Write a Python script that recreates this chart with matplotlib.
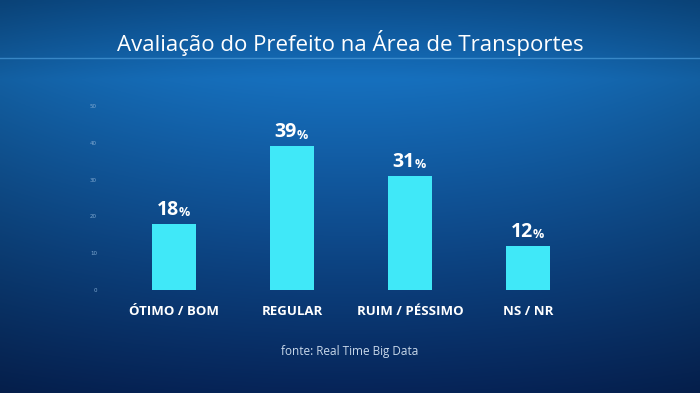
import matplotlib.pyplot as plt
import numpy as np

categories = ['ÓTIMO / BOM', 'REGULAR', 'RUIM / PÉSSIMO', 'NS / NR']
values = [18, 39, 31, 12]
yticks = [0, 10, 20, 30, 40, 50]
title = 'Avaliação do Prefeito na Área de Transportes'
source = 'fonte: Real Time Big Data'

W, H = 700, 393
fig = plt.figure(figsize=(W / 100, H / 100), dpi=100)

# background gradient
bg = fig.add_axes([0, 0, 1, 1])
yy = np.linspace(0, 1, 200)[:, None]
xx = np.linspace(-1, 1, 300)[None, :]
top = np.array([12, 78, 140]) / 255
mid = np.array([22, 112, 190]) / 255
bot = np.array([6, 36, 88]) / 255
t = yy
img = np.zeros((200, 300, 3))
for c in range(3):
    up = top[c] + (mid[c] - top[c]) * np.clip((t - 0.0) / 0.2, 0, 1)
    down = mid[c] + (bot[c] - mid[c]) * np.clip((t - 0.2) / 0.8, 0, 1)
    val = np.where(t < 0.2, up, down)
    img[:, :, c] = val * (1 - 0.15 * xx ** 2)
bg.imshow(np.clip(img, 0, 1), aspect='auto', extent=[0, 1, 0, 1], origin='upper')
bg.axhline(1 - 58 / H, color='#4a9ad8', lw=1, alpha=0.7)
bg.set_xlim(0, 1)
bg.set_ylim(0, 1)
bg.axis('off')

# chart axes: y=0 at 289px, y=50 at 105px; x centers 174..528
ax = fig.add_axes([115 / W, 1 - 290 / H, 472 / W, 184 / H])
ax.patch.set_alpha(0)
x = np.arange(len(categories))
ax.bar(x, values, width=0.38, color='#40e8f8')
ax.set_xlim(-0.5, 3.5)
ax.set_ylim(0, 50)
ax.set_yticks(yticks)
ax.set_yticklabels([str(v) for v in yticks], fontsize=4, color='#7fa8d0')
ax.tick_params(axis='y', length=0, pad=13)
ax.set_xticks(x)
ax.set_xticklabels(categories, fontsize=9.5, fontweight='bold', color='white',
                   family='Open Sans')
ax.tick_params(axis='x', length=0, pad=11)
for s in ax.spines.values():
    s.set_visible(False)

for xi, v in zip(x, values):
    ax.annotate(str(v), (xi, v), xytext=(3.5, 3), textcoords='offset points',
                ha='right', va='bottom', fontsize=14, fontweight='bold',
                color='white', family='Open Sans')
    ax.annotate('%', (xi, v), xytext=(3.5, 3.5), textcoords='offset points',
                ha='left', va='bottom', fontsize=9, fontweight='bold',
                color='white', family='Open Sans')

fig.text(0.5, 1 - 43 / H, title, ha='center', va='center', fontsize=16,
         color='white', family='Open Sans')
fig.text(0.5, 1 - 352 / H, source, ha='center', va='center', fontsize=8.5,
         color='#c8d8ea', family='Open Sans')

fig.savefig('out.png', dpi=100)
